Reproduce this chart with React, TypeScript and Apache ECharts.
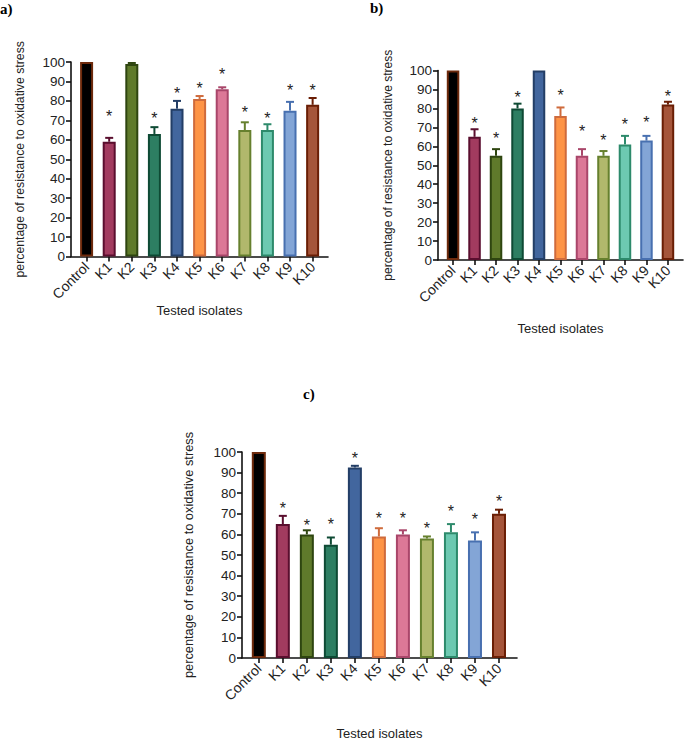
import React, { useEffect, useRef } from 'react';
import * as echarts from 'echarts';

const categories = ['Control', 'K1', 'K2', 'K3', 'K4', 'K5', 'K6', 'K7', 'K8', 'K9', 'K10'];
const yTicks = [0, 10, 20, 30, 40, 50, 60, 70, 80, 90, 100];

const fillColors = ['#000000', '#a23b5f', '#5f7a2b', '#2d7e62', '#42669e', '#fe9446', '#dc7897', '#b1b86c', '#6dc9b1', '#83a5d6', '#a5553a'];
const borderColors = ['#6e2a0c', '#5a0e2e', '#2e4510', '#0e4a34', '#233e66', '#cf6b3c', '#a9466a', '#66802e', '#2d8a6b', '#4870b0', '#6a1e05'];

// Panel a
const valuesA = [100, 59, 99, 63, 76, 81, 86, 65, 65, 75, 78];
const errorsA = [0, 2, 0.5, 3.5, 4, 1.5, 1, 4, 3, 4.5, 3.5];
const starsA = [null, 74, null, 73, 85.5, 88, 95.6, 75.6, 73, 87, 87];

// Panel b
const valuesB = [100, 65, 55, 80, 100, 76, 55, 55, 61, 63, 82];
const errorsB = [0, 4, 3.5, 2.5, 0, 4.5, 3.5, 2.5, 4.5, 2.5, 1.5];
const starsB = [null, 74, 66, 87.5, null, 88.4, 69.9, 65.1, 73.4, 74.3, 88];

// Panel c
const valuesC = [100, 65, 60, 55, 92.5, 59, 60, 58, 61, 57, 70];
const errorsC = [0, 4, 2, 3.5, 0.8, 4, 2, 1, 4, 4, 2];
const starsC = [null, 74.2, 65.8, 66.6, 98.7, 69.3, 69.3, 64.7, 73, 69, 77.8];

const yTitle = 'percentage of resistance to oxidative stress';
const xTitle = 'Tested isolates';

const SANS = '"Liberation Sans", Arial, sans-serif';
const SERIF = '"Liberation Serif", "Times New Roman", serif';

type PanelCfg = {
  grid: { left: number; top: number; width: number; height: number };
  xMin: number;
  xMax: number;
  barWidth: number;
  xNameGap: number;
  yNameGap: number;
  yNameSize: number;
};

function buildPanel(idx: number, values: number[], errors: number[], stars: (number | null)[], cfg: PanelCfg) {
  const grid = { ...cfg.grid, containLabel: false };
  const ticks = categories.map((_, i) => i);
  const xAxis = {
    type: 'value',
    gridIndex: idx,
    min: cfg.xMin,
    max: cfg.xMax,
    name: xTitle,
    nameLocation: 'middle',
    nameGap: cfg.xNameGap,
    nameTextStyle: { fontFamily: SANS, fontSize: 13, color: '#222' },
    splitLine: { show: false },
    axisLine: { show: true, onZero: false, lineStyle: { color: '#111', width: 1.6 } },
    axisTick: { show: true, customValues: ticks, length: 5, lineStyle: { color: '#111', width: 1.6 } },
    axisLabel: {
      show: true,
      customValues: ticks,
      rotate: 45,
      margin: 8,
      fontFamily: SANS,
      fontSize: 14,
      color: '#222',
      formatter: (v: number) => categories[Math.round(v)] ?? '',
    },
  };
  const yAxis = {
    type: 'value',
    gridIndex: idx,
    min: 0,
    max: 100,
    interval: 10,
    name: yTitle,
    nameLocation: 'middle',
    nameGap: cfg.yNameGap,
    nameTextStyle: { fontFamily: SANS, fontSize: cfg.yNameSize, color: '#222' },
    splitLine: { show: false },
    axisLine: { show: true, onZero: false, lineStyle: { color: '#111', width: 1.6 } },
    axisTick: { show: true, length: 5, lineStyle: { color: '#111', width: 1.6 } },
    axisLabel: { margin: 6, fontFamily: SANS, fontSize: 13.5, color: '#222', formatter: (v: number) => (yTicks.includes(v) ? String(v) : '') },
  };

  const barSeries = {
    type: 'bar',
    xAxisIndex: idx,
    yAxisIndex: idx,
    barWidth: cfg.barWidth,
    data: values.map((v, i) => ({
      value: [i, v],
      itemStyle: { color: fillColors[i], borderColor: borderColors[i], borderWidth: 2 },
    })),
  };

  const errSeries = {
    type: 'custom',
    xAxisIndex: idx,
    yAxisIndex: idx,
    data: values.map((v, i) => [i, v, errors[i]]),
    renderItem: (params: any, api: any) => {
      const x = api.value(0);
      const v = api.value(1);
      const e = api.value(2);
      if (!e) return { type: 'group', children: [] };
      const p0 = api.coord([x, v]);
      const p1 = api.coord([x, v + e]);
      const col = borderColors[params.dataIndex];
      const style = { stroke: col, lineWidth: 2 };
      return {
        type: 'group',
        children: [
          { type: 'line', shape: { x1: p0[0], y1: p0[1], x2: p1[0], y2: p1[1] }, style },
          { type: 'line', shape: { x1: p1[0] - 4, y1: p1[1], x2: p1[0] + 4, y2: p1[1] }, style },
        ],
      };
    },
    z: 1,
  };

  const starData = stars.map((s, i) => (s == null ? null : [i, s])).filter((d) => d !== null);
  const starSeries = {
    type: 'custom',
    xAxisIndex: idx,
    yAxisIndex: idx,
    data: starData,
    renderItem: (params: any, api: any) => {
      const p = api.coord([api.value(0), api.value(1)]);
      return {
        type: 'text',
        x: p[0],
        y: p[1] + 3.5,
        style: { text: '*', fontFamily: SANS, fontSize: 16, fill: '#222', align: 'center', verticalAlign: 'middle' },
      };
    },
  };

  return { grid, xAxis, yAxis, series: [barSeries, errSeries, starSeries] };
}

export default function App() {
  const ref = useRef<HTMLDivElement>(null);
  useEffect(() => {
    if (!ref.current) return;
    const chart = echarts.init(ref.current, undefined, { renderer: 'svg' });
    const pa = buildPanel(0, valuesA, errorsA, starsA, {
      grid: { left: 71, top: 62, width: 257, height: 194.5 },
      xMin: -0.69,
      xMax: 10.68,
      barWidth: 13,
      xNameGap: 40,
      yNameGap: 45,
      yNameSize: 12.3,
    });
    const pb = buildPanel(1, valuesB, errorsB, starsB, {
      grid: { left: 438, top: 70.5, width: 245, height: 189.5 },
      xMin: -0.7,
      xMax: 10.7,
      barWidth: 12.5,
      xNameGap: 62,
      yNameGap: 44,
      yNameSize: 12,
    });
    const pc = buildPanel(2, valuesC, errorsC, starsC, {
      grid: { left: 242, top: 452, width: 275, height: 208 },
      xMin: -0.7,
      xMax: 10.75,
      barWidth: 14,
      xNameGap: 69,
      yNameGap: 47,
      yNameSize: 12.8,
    });
    chart.setOption({
      animation: false,
      backgroundColor: '#ffffff',
      grid: [pa.grid, pb.grid, pc.grid],
      xAxis: [pa.xAxis, pb.xAxis, pc.xAxis],
      yAxis: [pa.yAxis, pb.yAxis, pc.yAxis],
      series: [...pa.series, ...pb.series, ...pc.series],
      graphic: [
        { type: 'text', left: 0, top: 1, style: { text: 'a)', fontFamily: SERIF, fontWeight: 'bold', fontSize: 15, fill: '#000' } },
        { type: 'text', left: 370, top: 0, style: { text: 'b)', fontFamily: SERIF, fontWeight: 'bold', fontSize: 15, fill: '#000' } },
        { type: 'text', left: 303, top: 386, style: { text: 'c)', fontFamily: SERIF, fontWeight: 'bold', fontSize: 15, fill: '#000' } },
      ],
    });
    return () => chart.dispose();
  }, []);
  return <div ref={ref} style={{ position: 'absolute', left: 0, top: 0, width: 685, height: 741 }} />;
}
